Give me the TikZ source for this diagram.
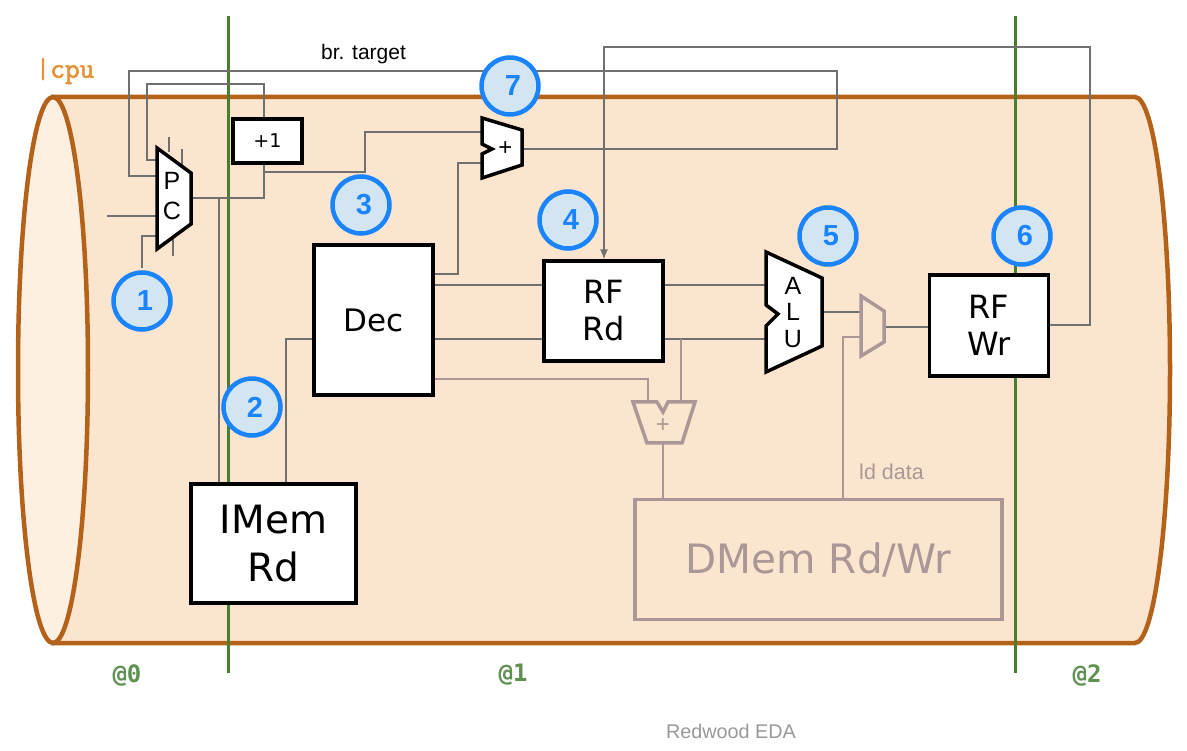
\documentclass[tikz,border=0pt]{standalone}
\usepackage{fontspec}
\setmainfont{Liberation Sans}
\newfontfamily\codefont{DejaVu Sans Mono}
\newfontfamily\boxfont{DejaVu Sans}
\newfontfamily\slabfont[FakeBold=2]{Latin Modern Mono}
\usetikzlibrary{calc,arrows.meta}
\definecolor{cyl}{HTML}{B46219}
\definecolor{cylfill}{HTML}{FCE5CE}
\definecolor{cylend}{HTML}{FDF0E3}
\definecolor{stage}{HTML}{4B7D2E}
\definecolor{wire}{HTML}{707070}
\definecolor{dim}{HTML}{AB9797}
\definecolor{badgeblue}{HTML}{1A84FF}
\definecolor{badgefill}{HTML}{D3E5F0}
\definecolor{cpuc}{HTML}{E69138}
\definecolor{stagetxt}{HTML}{5F9150}
\tikzset{x=1pt,y=-1pt,
 wireline/.style={draw=wire,line width=1.5pt},
 dimwire/.style={draw=dim,line width=1.5pt},
 block/.style={draw=black,fill=white,line width=3.2pt,align=center,inner sep=0pt,text=black},
 dimblock/.style={draw=dim,line width=3.2pt,inner sep=0pt,align=center,text=dim},
 muxshape/.style={draw=black,fill=white,line width=3.5pt,line join=miter},
 dimshape/.style={draw=dim,line width=3.5pt,line join=miter},
 badge/.style={circle,draw=badgeblue,fill=badgefill,line width=4.5pt,minimum size=57pt,inner sep=0pt,text=badgeblue,font=\fontsize{29}{29}\selectfont\bfseries},
 stagelabel/.style={text=stagetxt,font=\codefont\bfseries\fontsize{24}{24}\selectfont,inner sep=0pt},
 stageline/.style={draw=stage,line width=3pt},
 lab/.style={inner sep=0pt,text=black}}
\newcommand{\dg}[1]{\hspace*{6pt}#1}
\begin{document}
\begin{tikzpicture}
\useasboundingbox (0,0) rectangle (1187,751);
\fill[white] (0,0) rectangle (1187,751);
% cylinder
\path[fill=cylfill,draw=cyl,line width=4.5pt] (53,97) -- (1135,97) .. controls (1154.3,97) and (1170,219) .. (1170,370) .. controls (1170,521) and (1154.3,643) .. (1135,643) -- (53,643) -- cycle;
\path[fill=cylend,draw=cyl,line width=4.5pt] (53,97) .. controls (33.7,97) and (18,219) .. (18,370) .. controls (18,521) and (33.7,643) .. (53,643) .. controls (72.3,643) and (88,521) .. (88,370) .. controls (88,219) and (72.3,97) .. (53,97) -- cycle;
\node[text=cpuc,font=\slabfont\fontsize{28.5}{28.5}\selectfont,inner sep=0pt] (cpu) at (65,71) {|cpu};
% stage lines
\coordinate (s1t) at (228,16); \coordinate (s1b) at (228,673);
\coordinate (s2t) at (1015,16); \coordinate (s2b) at (1015,673);
\draw[stageline] (s1t) -- (s1b);
\draw[stageline] (s2t) -- (s2b);
% wires
\coordinate (pco) at (191,198);
\coordinate (pcj) at (219,198);
\coordinate (j1) at (264,198);
\coordinate (j2) at (264,172);
% blocks
\node[block,minimum width=69pt,minimum height=44pt,font=\boxfont\fontsize{19}{19}\selectfont] (inc) at (267.5,141) {+1};
\node[block,minimum width=119pt,minimum height=150pt,font=\boxfont\fontsize{31}{31}\selectfont] (dec) at (373.5,320) {Dec};
\node[block,minimum width=119pt,minimum height=100pt,font=\boxfont\fontsize{32}{37}\selectfont] (rfrd) at (603.5,311) {RF\\Rd};
\node[block,minimum width=119pt,minimum height=101pt,font=\boxfont\fontsize{32}{37}\selectfont] (rfwr) at (989,325.5) {RF\\Wr};
\node[block,minimum width=165pt,minimum height=119pt,font=\boxfont\fontsize{39}{48}\selectfont] (imem) at (273.5,543.5) {IMem\\Rd};
\node[dimblock,minimum width=367pt,minimum height=120pt,font=\boxfont\fontsize{40.5}{40.5}\selectfont] (dmem) at (818.5,559.5) {DMem Rd/Wr};
\draw[wireline] (pco) -- (j1) -- (inc.south -| j1);
\draw[wireline] (pcj) -- (imem.north -| pcj);
\draw[wireline] (inc.north -| j1) -- (264,84) -- (147,84) -- (147,160) -- (157,160);
\draw[wireline] (157,176) -- (129,176) -- (129,71) -- (837,71) -- (837,149) -- (522,149);
\draw[wireline] (j2) -- (365,172) -- (365,132) -- (482,132);
\draw[wireline] (dec.east |- 0,274) -- (458,274) -- (458,163) -- (482,163);
\draw[wireline] (dec.east |- 0,285) -- (rfrd.west |- 0,285);
\draw[wireline] (dec.east |- 0,339) -- (rfrd.west |- 0,339);
\draw[wireline] (rfrd.east |- 0,285) -- (766,285);
\draw[wireline] (rfrd.east |- 0,339) -- (766,339);
\draw[wireline] (imem.north -| 286,0) -- (286,339) -- (dec.west |- 0,339);
\draw[wireline,-{Latex[length=10pt,width=8pt]}] (rfwr.east |- 0,325) -- (1090,325) -- (1090,47) -- (604,47) -- (rfrd.north -| 604,0);
\draw[wireline] (107,216) -- (157,216);
\draw[wireline] (142,268) -- (142,236) -- (157,236);
\draw[wireline] (169,137) -- (169,152);
\draw[wireline] (182,149) -- (182,166);
\draw[wireline] (173,236) -- (173,256);
\draw[wireline] (822,312) -- (862,312);
\draw[wireline] (884,327) -- (rfwr.west |- 0,327);
\draw[dimwire] (dec.east |- 0,379) -- (648,379) -- (648,402);
\draw[dimwire] (681,339) -- (681,402);
\draw[dimwire] (663,443) -- (dmem.north -| 663,0);
\draw[dimwire] (dmem.north -| 843,0) -- (843,337) -- (861,337);
% muxes
\path[muxshape] (157,148) -- (191,173) -- (191,224) -- (157,249) -- cycle;
\node[lab,font=\fontsize{25}{25}\selectfont] (pcP) at (172,181) {P};
\node[lab,font=\fontsize{25}{25}\selectfont] (pcC) at (172,211) {C};
\path[muxshape] (482,118) -- (522,130) -- (522,165) -- (482,178) -- (482,154) -- (492,149) -- (482,144) -- cycle;
\node[lab,font=\fontsize{24}{24}\selectfont] (addp) at (505.5,148.5) {+};
\path[muxshape] (766,252) -- (822,278) -- (822,346) -- (766,372) -- (766,326) -- (778,314) -- (766,305) -- cycle;
\node[lab,font=\fontsize{25}{25}\selectfont] (a) at (793,286) {A};
\node[lab,font=\fontsize{25}{25}\selectfont] (l) at (793,312) {L};
\node[lab,font=\fontsize{25}{25}\selectfont] (u) at (793,339) {U};
\path[dimshape] (861,296) -- (884,311) -- (884,342) -- (861,356) -- cycle;
\path[dimshape] (633,402) -- (657,402) -- (663,412) -- (668,402) -- (695,402) -- (682,443) -- (647,443) -- cycle;
\node[lab,text=dim,font=\fontsize{24}{24}\selectfont] (dp) at (663,426) {+};
% text
\node[lab,font=\fontsize{21}{21}\selectfont] (br) at (363.5,54) {br. target};
\node[lab,text=dim,font=\fontsize{21.5}{21.5}\selectfont] (ld) at (891.5,472) {ld data};
\node[lab,text=black!40,font=\fontsize{19.8}{19.8}\selectfont] (red) at (731,731) {Redwood EDA};
\node[stagelabel] (at0) at (127,675) {@0};
\node[stagelabel] (at1) at (513,675) {@1};
\node[stagelabel] (at2) at (1087,675) {@2};
% badges
\node[badge] (b1) at (142,301) {\dg{1}};
\node[badge] (b2) at (252,407) {\dg{2}};
\node[badge] (b3) at (361,205) {\dg{3}};
\node[badge] (b4) at (568,220) {\dg{4}};
\node[badge] (b5) at (828,236) {\dg{5}};
\node[badge] (b6) at (1022,236) {\dg{6}};
\node[badge] (b7) at (510,86) {\dg{7}};
\end{tikzpicture}
\end{document}
